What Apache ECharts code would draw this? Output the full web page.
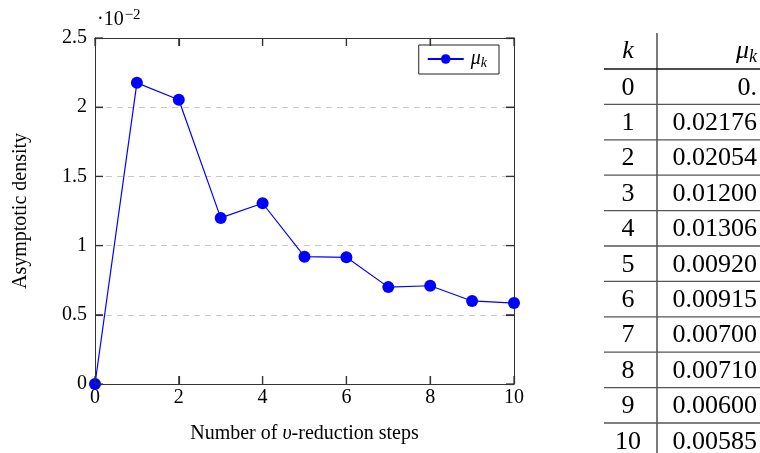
<!DOCTYPE html>
<html>
<head>
<meta charset="utf-8">
<script src="https://cdn.jsdelivr.net/npm/echarts@6/dist/echarts.min.js"></script>
<style>html,body{margin:0;padding:0;background:#fff}#c{width:760px;height:453px}</style>
</head>
<body>
<div id="c"></div>
<script>
// ---- data ----
var steps = [0, 1, 2, 3, 4, 5, 6, 7, 8, 9, 10];
var mu = [0, 0.02176, 0.02054, 0.01200, 0.01306, 0.00920, 0.00915, 0.00700, 0.00710, 0.00600, 0.00585];
var muLabels = ['0.', '0.02176', '0.02054', '0.01200', '0.01306', '0.00920', '0.00915', '0.00700', '0.00710', '0.00600', '0.00585'];
var xTicks = [0, 2, 4, 6, 8, 10];
var yTicks = ['0', '0.5', '1', '1.5', '2', '2.5'];
var scaleFactor = 100; // axis shown in units of 10^-2

var FONT = 'Liberation Serif';
var chart = echarts.init(document.getElementById('c'));

// table graphics
var g = [];
var rowH = 35.4, headY = 69, colX = 657, tL = 604, tR = 760;
g.push({type: 'line', shape: {x1: colX, y1: 33, x2: colX, y2: 453}, style: {stroke: '#222', lineWidth: 1.2}});
g.push({type: 'line', shape: {x1: tL, y1: headY, x2: tR, y2: headY}, style: {stroke: '#111', lineWidth: 1.6}});
g.push({type: 'text', x: 628, y: 51, style: {text: 'k', font: 'italic 26px ' + FONT, fill: '#000', align: 'center', verticalAlign: 'middle'}});
g.push({type: 'text', x: 757, y: 51, style: {text: '{m|μ}{s|k}', rich: {m: {font: 'italic 26px ' + FONT, fill: '#000'}, s: {font: 'italic 18px ' + FONT, fill: '#000', padding: [12, 0, 0, 0]}}, align: 'right', verticalAlign: 'middle'}});
for (var i = 0; i < steps.length; i++) {
  var cy = headY + rowH * i + rowH / 2 + 1;
  g.push({type: 'text', x: 628, y: cy, style: {text: String(steps[i]), font: '26px ' + FONT, fill: '#000', align: 'center', verticalAlign: 'middle'}});
  g.push({type: 'text', x: 757, y: cy, style: {text: muLabels[i], font: '26px ' + FONT, fill: '#000', align: 'right', verticalAlign: 'middle'}});
  if (i < steps.length - 1) {
    var ly = headY + rowH * (i + 1);
    g.push({type: 'line', shape: {x1: tL, y1: ly, x2: tR, y2: ly}, style: {stroke: '#555', lineWidth: 1.3}});
  }
}
// exponent label
g.push({type: 'text', x: 97, y: 20, style: {text: '{a|·10}{b|−2}', rich: {a: {font: '20px ' + FONT, fill: '#000'}, b: {font: '15px ' + FONT, fill: '#000', padding: [0, 0, 10, 1]}}, verticalAlign: 'middle'}});

function axisLine() { return {show: true, onZero: false, lineStyle: {color: '#333', width: 1}}; }
function tick() { return {show: true, inside: true, length: 8, lineStyle: {color: '#333', width: 1.2}}; }

chart.setOption({
  animation: false,
  textStyle: {fontFamily: FONT},
  grid: {left: 95, right: 246, top: 38, bottom: 69, show: false},
  legend: {
    right: 261, top: 45, orient: 'horizontal',
    borderColor: '#222', borderWidth: 1, borderRadius: 0, padding: [4, 12, 4, 8],
    itemWidth: 36, itemHeight: 12, itemGap: 4,
    data: [{name: 'mu'}],
    formatter: function () { return '{m|μ}{s|k}'; },
    textStyle: {padding: [0, 0, 0, 2], rich: {m: {fontFamily: FONT, fontStyle: 'italic', fontSize: 20, color: '#000'}, s: {fontFamily: FONT, fontStyle: 'italic', fontSize: 14, color: '#000', padding: [8, 0, 0, 0]}}}
  },
  xAxis: [{
    type: 'value', min: 0, max: 10, interval: 2, position: 'bottom',
    axisLine: axisLine(), axisTick: tick(), splitLine: {show: false},
    axisLabel: {fontFamily: FONT, fontSize: 20, color: '#000', margin: 4,
      formatter: function (v) { return xTicks.indexOf(v) >= 0 ? String(v) : ''; }},
    name: '{t|Number of }{i|υ}{t|-reduction steps}', nameLocation: 'middle', nameGap: 40,
    nameTextStyle: {rich: {t: {fontFamily: FONT, fontSize: 20, color: '#000'}, i: {fontFamily: FONT, fontStyle: 'italic', fontSize: 20, color: '#000'}}}
  }, {
    type: 'value', min: 0, max: 10, interval: 2, position: 'top',
    axisLine: axisLine(), axisTick: tick(), axisLabel: {show: false}, splitLine: {show: false}
  }],
  yAxis: [{
    type: 'value', min: 0, max: 2.5, interval: 0.5, position: 'left',
    axisLine: axisLine(), axisTick: tick(),
    splitLine: {show: true, lineStyle: {color: '#c8c8c8', type: [6, 5], width: 1}},
    axisLabel: {fontFamily: FONT, fontSize: 20, color: '#000', margin: 8,
      formatter: function (v) { return yTicks[Math.round(v / 0.5)]; }},
    name: 'Asymptotic density', nameLocation: 'middle', nameGap: 64,
    nameTextStyle: {fontFamily: FONT, fontSize: 20, color: '#000'}
  }, {
    type: 'value', min: 0, max: 2.5, interval: 0.5, position: 'right',
    axisLine: axisLine(), axisTick: tick(), axisLabel: {show: false}, splitLine: {show: false}
  }],
  series: [{
    name: 'mu', type: 'line',
    data: steps.map(function (k, i) { return [k, mu[i] * scaleFactor]; }),
    symbol: 'circle', symbolSize: 12,
    itemStyle: {color: '#0000ff'},
    lineStyle: {color: '#0000ff', width: 1.2}
  }],
  graphic: g
});

// reinforce inward ticks on all four sides, positioned through the chart's own scales
try {
  var tk = [];
  var yMin = 0, yMax = parseFloat(yTicks[yTicks.length - 1]);
  var xMin = xTicks[0], xMax = xTicks[xTicks.length - 1];
  var stroke = {stroke: '#333', lineWidth: 1.2};
  xTicks.forEach(function (xv) {
    var pb = chart.convertToPixel({gridIndex: 0}, [xv, yMin]);
    var pt = chart.convertToPixel({gridIndex: 0}, [xv, yMax]);
    tk.push({type: 'line', z: 100, shape: {x1: pb[0], y1: pb[1], x2: pb[0], y2: pb[1] - 8}, style: stroke});
    tk.push({type: 'line', z: 100, shape: {x1: pt[0], y1: pt[1], x2: pt[0], y2: pt[1] + 8}, style: stroke});
  });
  yTicks.forEach(function (ys) {
    var yv = parseFloat(ys);
    var pl = chart.convertToPixel({gridIndex: 0}, [xMin, yv]);
    var pr = chart.convertToPixel({gridIndex: 0}, [xMax, yv]);
    tk.push({type: 'line', z: 100, shape: {x1: pl[0], y1: pl[1], x2: pl[0] + 8, y2: pl[1]}, style: stroke});
    tk.push({type: 'line', z: 100, shape: {x1: pr[0], y1: pr[1], x2: pr[0] - 8, y2: pr[1]}, style: stroke});
  });
  chart.setOption({graphic: g.concat(tk)});
} catch (e) {}
</script>
</body>
</html>
